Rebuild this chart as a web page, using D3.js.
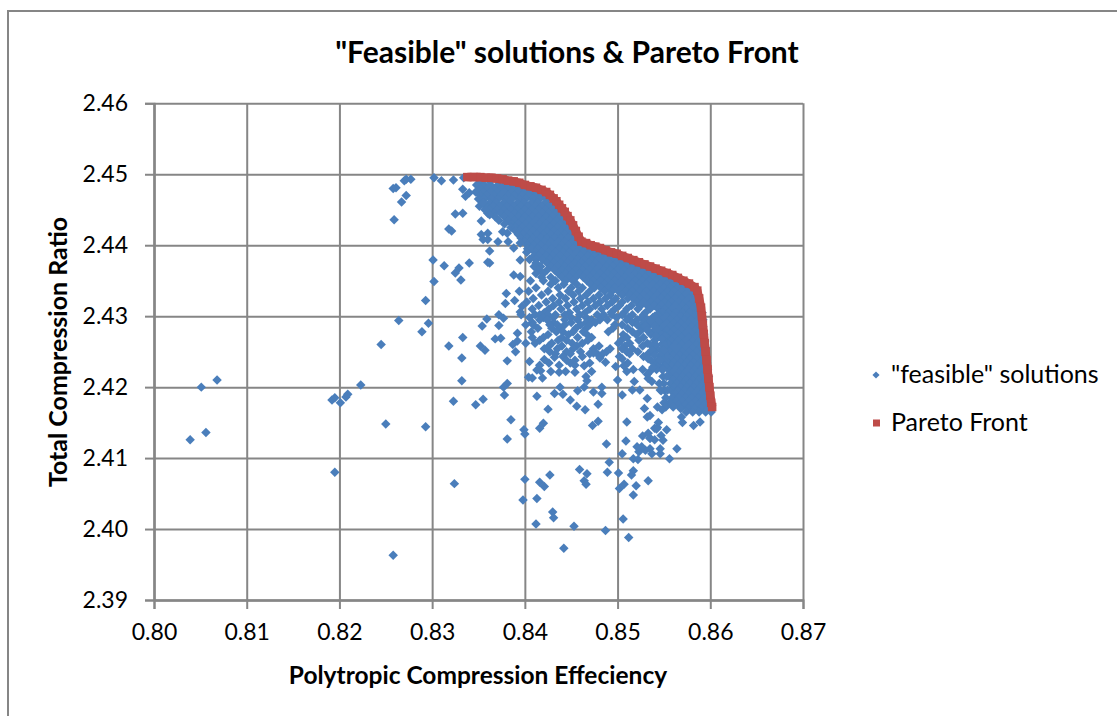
<!DOCTYPE html>
<html><head><meta charset="utf-8">
<script src="https://cdn.jsdelivr.net/npm/d3@7"></script>
<style>
html,body{margin:0;padding:0;background:#fff;overflow:hidden}
text{font-family:Lato,"Open Sans",sans-serif;fill:#000}
</style></head><body>
<svg id="c" width="1117" height="716"></svg>
<script>
const chartTitle='"Feasible" solutions & Pareto Front';
const xTitle='Polytropic Compression Effeciency';
const yTitle='Total Compression Ratio';
const seriesNames=['"feasible" solutions','Pareto Front'];
const xTicks=[0.80,0.81,0.82,0.83,0.84,0.85,0.86,0.87];
const yTicks=[2.39,2.40,2.41,2.42,2.43,2.44,2.45,2.46];

const paretoX=[.8338,.8345,.8352,.8358,.8364,.8370,.8376,.8382,.8388,.8394,.8400,.8406,.8412,.8418,.8423,.8427,.8431,.8434,.8437,.8440,.8443,.8446,.8449,.8452,.8455,.8458,.8461,.8466,.8471,.8476,.8481,.8487,.8493,.8499,.8505,.8511,.8517,.8523,.8529,.8535,.8541,.8547,.8553,.8559,.8565,.8571,.8577,.8583,.8586,.8588,.8590,.8591,.8592,.8593,.8594,.8595,.8596,.8597,.8598,.8599,.8600,.8601,.8602];
const paretoY=[2.4496,2.4496,2.4496,2.4495,2.4495,2.4494,2.4493,2.4491,2.4490,2.4488,2.4485,2.4483,2.4481,2.4478,2.4475,2.4471,2.4466,2.4462,2.4457,2.4452,2.4447,2.4441,2.4435,2.4428,2.4420,2.4412,2.4405,2.4403,2.4400,2.4398,2.4396,2.4393,2.4390,2.4388,2.4385,2.4382,2.4379,2.4376,2.4373,2.4370,2.4367,2.4364,2.4361,2.4358,2.4354,2.4350,2.4346,2.4341,2.4336,2.4325,2.4312,2.4300,2.4288,2.4275,2.4262,2.4250,2.4238,2.4225,2.4212,2.4200,2.4188,2.4178,2.4172];

const denseRowY=[2.4490,2.4485,2.4480,2.4475,2.4470,2.4465,2.4460,2.4455,2.4450,2.4445,2.4440,2.4435,2.4430,2.4425,2.4420,2.4415,2.4410,2.4405,2.4400,2.4395,2.4390,2.4385,2.4380,2.4375,2.4370,2.4365,2.4360,2.4355,2.4350,2.4345,2.4340,2.4335,2.4330,2.4325,2.4320,2.4315,2.4310,2.4305,2.4300,2.4295,2.4290,2.4285,2.4280,2.4275,2.4270,2.4265,2.4260,2.4255,2.4250,2.4245,2.4240,2.4235,2.4230,2.4225,2.4220,2.4215,2.4210,2.4205,2.4200,2.4195,2.4190,2.4185,2.4180,2.4175,2.4170,2.4165];
const denseRowX=[
[.8352,.8362,.8372],
[.8348,.8356,.8363,.8371,.8378,.8386,.8393],
[.8352,.8360,.8367,.8375,.8382,.8390,.8397,.8405],
[.8347,.8355,.8363,.8370,.8378,.8385,.8393,.8400,.8408,.8414],
[.8352,.8359,.8367,.8374,.8382,.8389,.8397,.8404,.8412,.8419],
[.8350,.8356,.8364,.8371,.8379,.8386,.8394,.8401,.8409,.8416,.8424],
[.8355,.8362,.8369,.8377,.8384,.8392,.8399,.8407,.8414,.8422,.8430],
[.8358,.8366,.8373,.8381,.8388,.8396,.8403,.8411,.8418,.8426,.8434],
[.8362,.8370,.8377,.8385,.8392,.8400,.8407,.8415,.8422,.8430,.8437],
[.8360,.8367,.8374,.8381,.8389,.8396,.8404,.8411,.8419,.8426,.8434,.8441],
[.8368,.8378,.8385,.8393,.8400,.8408,.8415,.8423,.8430,.8438,.8445],
[.8372,.8382,.8389,.8397,.8404,.8412,.8419,.8427,.8434,.8442,.8448],
[.8378,.8386,.8393,.8401,.8408,.8416,.8423,.8431,.8438,.8446,.8450],
[.8385,.8390,.8397,.8405,.8412,.8420,.8427,.8435,.8442,.8449,.8452],
[.8390,.8394,.8401,.8409,.8416,.8424,.8431,.8439,.8446,.8453],
[.8393,.8398,.8405,.8413,.8420,.8428,.8435,.8443,.8450,.8456],
[.8396,.8402,.8409,.8417,.8424,.8432,.8439,.8447,.8454,.8459],
[.8400,.8406,.8413,.8421,.8428,.8436,.8443,.8451,.8458,.8462],
[.8403,.8410,.8417,.8425,.8432,.8440,.8447,.8455,.8462,.8470],
[.8403,.8407,.8414,.8422,.8429,.8437,.8444,.8452,.8459,.8467,.8474,.8480],
[.8402,.8411,.8418,.8426,.8433,.8441,.8448,.8456,.8463,.8471,.8478,.8486,.8491],
[.8410,.8415,.8423,.8430,.8438,.8445,.8453,.8460,.8468,.8475,.8483,.8490,.8498],
[.8405,.8412,.8419,.8427,.8434,.8442,.8449,.8457,.8464,.8472,.8479,.8487,.8494,.8502,.8509],
[.8412,.8424,.8431,.8439,.8446,.8454,.8461,.8469,.8476,.8484,.8491,.8499,.8506,.8514,.8520],
[.8410,.8417,.8428,.8435,.8443,.8450,.8458,.8465,.8473,.8480,.8488,.8495,.8503,.8510,.8518,.8526],
[.8415,.8424,.8432,.8440,.8447,.8455,.8462,.8470,.8477,.8485,.8492,.8500,.8507,.8515,.8522,.8530,.8537],
[.8412,.8420,.8436,.8444,.8451,.8459,.8466,.8474,.8481,.8489,.8496,.8504,.8511,.8519,.8526,.8534,.8541,.8548],
[.8418,.8428,.8440,.8448,.8455,.8463,.8470,.8478,.8485,.8493,.8500,.8508,.8515,.8523,.8530,.8538,.8545,.8553],
[.8406,.8420,.8433,.8444,.8452,.8467,.8474,.8482,.8489,.8497,.8504,.8512,.8519,.8527,.8534,.8542,.8549,.8557,.8562],
[.8428,.8442,.8456,.8471,.8478,.8486,.8493,.8501,.8508,.8516,.8523,.8531,.8538,.8546,.8553,.8561,.8568],
[.8412,.8436,.8450,.8462,.8475,.8482,.8490,.8497,.8505,.8512,.8520,.8527,.8535,.8542,.8550,.8557,.8565,.8572,.8578],
[.8404,.8425,.8447,.8458,.8470,.8486,.8494,.8501,.8509,.8516,.8524,.8531,.8539,.8546,.8554,.8561,.8569,.8576,.8583],
[.8418,.8438,.8452,.8466,.8480,.8492,.8505,.8513,.8520,.8528,.8535,.8543,.8550,.8558,.8565,.8573,.8580,.8587],
[.8409,.8430,.8444,.8460,.8474,.8487,.8498,.8511,.8517,.8524,.8532,.8539,.8547,.8554,.8562,.8569,.8577,.8584],
[.8402,.8423,.8437,.8453,.8468,.8481,.8494,.8505,.8521,.8528,.8536,.8543,.8551,.8558,.8566,.8573,.8581,.8588],
[.8415,.8431,.8446,.8462,.8476,.8489,.8502,.8515,.8525,.8532,.8540,.8547,.8555,.8562,.8570,.8577,.8585,.8589],
[.8408,.8426,.8439,.8456,.8470,.8483,.8497,.8510,.8522,.8535,.8544,.8551,.8559,.8566,.8574,.8581,.8589],
[.8421,.8448,.8465,.8493,.8507,.8530,.8545,.8548,.8555,.8563,.8570,.8578,.8585,.8591],
[.8546,.8553,.8560,.8568,.8575,.8583,.8590],
[.8549,.8557,.8564,.8572,.8579,.8587,.8592],
[.8545,.8553,.8561,.8568,.8576,.8583,.8591],
[.8549,.8557,.8565,.8572,.8580,.8587,.8592],
[.8546,.8553,.8561,.8569,.8576,.8584,.8592],
[.8550,.8557,.8565,.8573,.8580,.8588,.8593],
[.8547,.8554,.8561,.8569,.8577,.8584,.8592],
[.8551,.8558,.8565,.8573,.8581,.8588,.8594],
[.8548,.8555,.8562,.8569,.8577,.8585,.8592],
[.8552,.8559,.8566,.8573,.8581,.8589,.8595],
[.8556,.8563,.8570,.8577,.8585,.8593],
[.8553,.8560,.8567,.8574,.8581,.8589,.8595],
[.8557,.8564,.8571,.8578,.8585,.8593],
[.8554,.8561,.8568,.8575,.8582,.8589,.8596],
[.8558,.8565,.8572,.8579,.8586,.8593],
[.8555,.8562,.8569,.8576,.8583,.8590,.8597],
[.8559,.8566,.8573,.8580,.8587,.8594],
[.8556,.8563,.8570,.8577,.8584,.8591,.8598],
[.8560,.8567,.8574,.8581,.8588,.8595],
[.8557,.8564,.8571,.8578,.8585,.8592,.8598],
[.8561,.8568,.8575,.8582,.8589,.8596],
[.8558,.8565,.8572,.8579,.8586,.8593,.8599],
[.8562,.8569,.8576,.8583,.8590,.8597],
[.8559,.8566,.8573,.8580,.8587,.8594,.8600],
[.8563,.8570,.8577,.8584,.8591,.8598],
[.8566,.8573,.8580,.8587,.8594,.8600],
[.8568,.8576,.8583,.8590,.8597],
[.8574,.8581,.8588,.8595,.8601]
];

const mottledRowY=[2.4302,2.4298,2.4295,2.4291,2.4288,2.4283,2.4278,2.4274,2.4270,2.4266,2.4262,2.4258,2.4254,2.4250,2.4247,2.4243,2.4234,2.4222];
const mottledRowX=[
[.8396,.8411,.8416,.8425,.8433,.8443,.8459,.8478,.8485,.8494,.8505,.8516,.8528,.8543],
[.8405,.8420,.8431,.8450,.8466,.8499,.8512,.8526,.8538],
[.8416,.8424,.8443,.8457,.8472,.8481,.8489,.8510,.8521,.8532],
[.8408,.8431,.8450,.8466,.8476,.8516,.8528,.8540],
[.8401,.8409,.8427,.8435,.8443,.8460,.8470,.8497,.8505,.8521,.8535],
[.8414,.8429,.8438,.8455,.8466,.8495,.8511,.8526,.8542],
[.8407,.8434,.8441,.8452,.8463,.8490,.8516,.8524,.8538],
[.8425,.8447,.8467,.8506,.8520,.8536,.8547],
[.8408,.8420,.8440,.8457,.8472,.8510,.8528,.8543],
[.8416,.8436,.8445,.8468,.8504,.8523,.8540],
[.8401,.8411,.8429,.8451,.8462,.8501,.8513,.8532,.8549],
[.8426,.8440,.8456,.8480,.8508,.8527,.8538],
[.8421,.8435,.8452,.8474,.8492,.8505,.8516,.8543],
[.8427,.8445,.8460,.8488,.8510,.8522,.8540],
[.8433,.8449,.8470,.8478,.8484,.8513,.8533,.8548],
[.8441,.8462,.8502,.8528,.8552],
[.8426,.8449,.8470,.8511,.8541],
[.8428,.8444,.8472,.8510,.8535]
];

const blockEdgeY=[2.4300,2.4293,2.4286,2.4280,2.4272,2.4268,2.4260,2.4252,2.4245,2.4238,2.4230,2.4225,2.4215,2.4205,2.4195,2.4185,2.4178,2.4172];
const blockEdgeX=[[.8540],[.8544,.8536],[.8540,.8530],[.8542,.8532],[.8541,.8551],[.8548],[.8541,.8535],[.8548,.8550,.8537],[.8546,.8540],[.8549,.8544,.8536],[.8551,.8545],[.8548,.8542],[.8549,.8553],[.8550,.8545],[.8551,.8547],[.8552],[.8556,.8550],[.8560,.8552]];

const sparseX=[.8051,.8068,.8039,.8056,.8192,.8195,.8201,.8207,.8209,.8223,.8250,.8293,.8195,.8258,
.8277,.8272,.8270,.8261,.8258,.8272,.8267,.8259,.8302,.8310,.8323,.8334,.8333,.8336,.8340,.8325,.8333,.8318,.8321,.8301,.8313,.8329,.8325,.8340,.8331,.8302,.8293,.8264,.8296,.8289,.8245,.8333,.8318,.8332,
.8359,.8372,.8377,.8354,.8372,.8368,.8374,.8352,.8357,.8381,.8387,.8392,.8390,.8392,.8332,.8377,.8381,.8323,.8347,.8355,.8378,.8385,.8399,.8400,.8381,.8420,.8416,.8425,.8413,
.8324,.8400,.8398,.8413,.8416,.8421,.8427,.8430,.8431,.8412,.8453,.8442,.8487,.8512,.8506,.8459,.8467,.8464,.8466,.8489,.8491,.8501,.8502,.8507,.8517,.8515,.8520,.8517,.8533,
.8505,.8488,.8509,.8517,.8522,.8556,.8564,.8546,.8546,.8537,.8535,.8530,.8526,.8523,.8521,.8549,.8527,.8535,.8510,.8479,.8473,.8465,.8456,.8449,.8441,.8432,.8438,.8457,.8464,.8474,.8483,.8483,.8479,.8505,.8500,.8518,.8529,.8532,
.8404,.8408,.8419,.8437,.8454,.8466,.8467,.8405,.8413,.8416,.8417,.8421,.8432,.8437,.8445,.8454,.8464,.8454,.8474,.8481,.8487,.8498,.8507,.8517,
.8353,.8353,.8360,.8376,.8381,.8355,.8360,.8371,.8382,.8362,.8362,.8360,.8388,.8395,.8395,.8388,.8395,.8380,.8394,.8379,.8389,.8397,.8395,.8362,.8357,.8351,.8355,
.8505,.8533,.8546,.8507,.8527,.8538,.8549,.8532,.8537,.8533,.8546,.8554,.8516,.8524,.8532,.8543,.8548,.8535,.8544,.8543,.8540,.8542,.8533,.8553,.8547,.8540,.8535,
.8569,.8570,.8582,.8589];
const sparseY=[2.4200,2.4210,2.4126,2.4136,2.4182,2.4185,2.4178,2.4186,2.4190,2.4203,2.4148,2.4144,2.4080,2.3963,
2.4493,2.4493,2.4491,2.4481,2.4480,2.4470,2.4461,2.4436,2.4495,2.4491,2.4492,2.4495,2.4479,2.4469,2.4474,2.4444,2.4445,2.4423,2.4420,2.4379,2.4371,2.4368,2.4361,2.4375,2.4351,2.4349,2.4322,2.4294,2.4290,2.4278,2.4260,2.4270,2.4258,2.4241,
2.4296,2.4302,2.4297,2.4286,2.4287,2.4268,2.4269,2.4258,2.4252,2.4237,2.4260,2.4265,2.4250,2.4276,2.4209,2.4200,2.4205,2.4180,2.4175,2.4183,2.4189,2.4154,2.4140,2.4134,2.4127,2.4149,2.4142,2.4169,2.4187,
2.4064,2.4070,2.4041,2.4043,2.4066,2.4060,2.4076,2.4024,2.4016,2.4007,2.4004,2.3973,2.3998,2.3988,2.4014,2.4084,2.4078,2.4068,2.4063,2.4080,2.4094,2.4079,2.4057,2.4063,2.4082,2.4076,2.4061,2.4048,2.4068,
2.4106,2.4120,2.4124,2.4099,2.4098,2.4099,2.4113,2.4106,2.4113,2.4106,2.4113,2.4111,2.4116,2.4109,2.4116,2.4125,2.4131,2.4128,2.4151,2.4152,2.4146,2.4168,2.4173,2.4182,2.4190,2.4191,2.4200,2.4195,2.4200,2.4193,2.4200,2.4191,2.4176,2.4189,2.4210,2.4208,2.4170,2.4158,
2.4214,2.4213,2.4213,2.4221,2.4221,2.4215,2.4209,2.4236,2.4224,2.4231,2.4223,2.4239,2.4242,2.4231,2.4238,2.4231,2.4230,2.4238,2.4248,2.4241,2.4235,2.4229,2.4230,2.4225,
2.4434,2.4415,2.4417,2.4419,2.4417,2.4408,2.4408,2.4405,2.4405,2.4392,2.4375,2.4376,2.4396,2.4403,2.4379,2.4358,2.4356,2.4332,2.4335,2.4318,2.4322,2.4314,2.4306,2.4443,2.4450,2.4455,2.4460,
2.4240,2.4240,2.4238,2.4230,2.4225,2.4228,2.4225,2.4218,2.4208,2.4212,2.4196,2.4196,2.4196,2.4196,2.4184,2.4172,2.4168,2.4160,2.4150,2.4143,2.4142,2.4141,2.4135,2.4140,2.4132,2.4126,2.4128,
2.4158,2.4150,2.4146,2.4151];

const W=1117,H=716;
const m={l:154,r:803,t:103.3,b:600};
const x=d3.scaleLinear().domain([0.80,0.87]).range([m.l,m.r]);
const y=d3.scaleLinear().domain([2.39,2.46]).range([m.b,m.t]);
const svg=d3.select('#c');
const gridCol='#868686';

svg.append('rect').attr('x',8).attr('y',11).attr('width',1300).attr('height',1000)
  .attr('fill','#fff').attr('stroke',gridCol).attr('stroke-width',2);

function styleAxis(g){g.select('.domain').attr('stroke',gridCol).attr('stroke-width',2);
  g.selectAll('.tick line').attr('stroke',gridCol).attr('stroke-width',2);}
svg.append('g').attr('transform',`translate(0,${m.b})`)
  .call(d3.axisBottom(x).tickValues(xTicks).tickSize(-(m.b-m.t)).tickFormat('').tickSizeOuter(0)).call(styleAxis);
svg.append('g').attr('transform',`translate(${m.l},0)`)
  .call(d3.axisLeft(y).tickValues(yTicks).tickSize(-(m.r-m.l)).tickFormat('').tickSizeOuter(0)).call(styleAxis);
const ax=svg.append('g').attr('transform',`translate(0,${m.b})`)
  .call(d3.axisBottom(x).tickValues(xTicks).tickSize(9).tickPadding(15).tickFormat(d3.format('.2f'))).call(styleAxis);
const ay=svg.append('g').attr('transform',`translate(${m.l},0)`)
  .call(d3.axisLeft(y).tickValues(yTicks).tickSize(9).tickPadding(17).tickFormat(d3.format('.2f'))).call(styleAxis);
ax.selectAll('text').attr('font-size',23).style('font-family','Lato').attr('fill','#000');
ay.selectAll('text').attr('font-size',23).style('font-family','Lato').attr('fill','#000');

const diamond={draw(ctx,s){const r=Math.sqrt(s)/2;ctx.moveTo(0,-r);ctx.lineTo(r,0);ctx.lineTo(0,r);ctx.lineTo(-r,0);ctx.closePath();}};
const sym=d3.symbol().type(diamond).size(90);
const blue='#4a7ebb',red='#be4b48';

const feasible=[];
denseRowY.forEach((v,i)=>denseRowX[i].forEach(u=>feasible.push([u,v])));
mottledRowY.forEach((v,i)=>mottledRowX[i].forEach(u=>feasible.push([u,v])));
blockEdgeY.forEach((v,i)=>blockEdgeX[i].forEach(u=>feasible.push([u,v])));
sparseX.forEach((u,i)=>feasible.push([u,sparseY[i]]));

svg.append('g').selectAll('path').data(feasible).join('path')
  .attr('d',sym).attr('fill',blue)
  .attr('transform',d=>`translate(${x(d[0])},${y(d[1])})`);

const pareto=paretoX.map((u,i)=>[u,paretoY[i]]);
svg.append('path').datum(pareto)
  .attr('d',d3.line().x(d=>x(d[0])).y(d=>y(d[1])))
  .attr('fill','none').attr('stroke',red).attr('stroke-width',8.5).attr('stroke-linejoin','round');
svg.append('g').selectAll('rect').data(pareto).join('rect')
  .attr('x',d=>x(d[0])-4.25).attr('y',d=>y(d[1])-4.25).attr('width',8.5).attr('height',8.5).attr('fill',red);

svg.append('text').attr('x',567).attr('y',63).attr('text-anchor','middle')
  .attr('font-size',30).attr('font-weight',700).text(chartTitle);
svg.append('text').attr('x',478).attr('y',684).attr('text-anchor','middle')
  .attr('font-size',24.5).attr('font-weight',700).text(xTitle);
svg.append('text').attr('transform','translate(67,352) rotate(-90)').attr('text-anchor','middle')
  .attr('font-size',25).attr('font-weight',700).text(yTitle);

svg.append('path').attr('d',sym).attr('fill',blue).attr('transform','translate(876,375) scale(.75)');
svg.append('rect').attr('x',873).attr('y',419.5).attr('width',7).attr('height',7).attr('fill',red);
svg.append('text').attr('x',891).attr('y',383).attr('font-size',25).text(seriesNames[0]);
svg.append('text').attr('x',891).attr('y',431).attr('font-size',25).text(seriesNames[1]);
</script></body></html>
